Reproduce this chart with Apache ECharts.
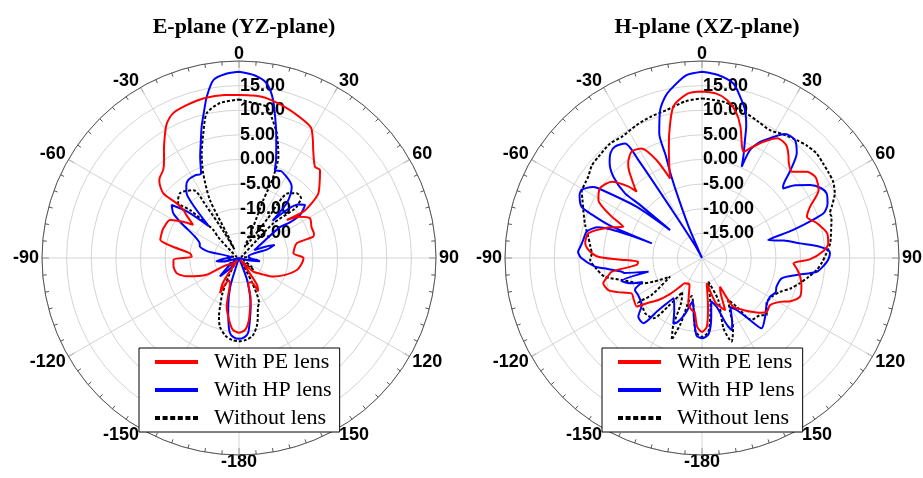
<!DOCTYPE html>
<html><head><meta charset="utf-8">
<script src="https://cdn.jsdelivr.net/npm/echarts@6/dist/echarts.min.js"></script>
<style>html,body{margin:0;padding:0;background:#fff}#c{width:923px;height:478px}</style>
</head><body><div id="c"></div><script>
// [angle (deg, clockwise from broadside), gain (dB)]
const ePE = [[0,13.1],[5,13.1],[10,12.9],[18,11.9],[25,10.9],[29,10.2],[32,8.3],[34.5,6.6],[39.8,4.1],[42.6,4.3],[46,2.8],[50.8,0.8],[53,-1.5],[54.2,-3.9],[51.5,-7.6],[56,-5],[60.8,-3.5],[67,-4.0],[72,-4.0],[74,-4.3],[75.7,-7.9],[85,-8.9],[90,-6.9],[95,-7.2],[101.7,-8],[110,-10],[118.6,-12.1],[126,-14.5],[133.8,-16],[140,-19.5],[146,-13.5],[150,-12.2],[154,-14.5],[160,-14.5],[164,-11.5],[167,-9.9],[171,-7.2],[175,-5.4],[180,-4.8],[-175,-5.4],[-171,-7.2],[-165.8,-9.8],[-160,-14.6],[-156,-15],[-151.7,-11.9],[-147,-14],[-140,-19.5],[-130,-18],[-125,-17.9],[-117.3,-12.6],[-109.4,-8.8],[-103.8,-7],[-97,-6.6],[-91.5,-6.7],[-88.4,-10.4],[-84.5,-10],[-80,-6],[-77,-3.6],[-72,-3.5],[-68.6,-3.5],[-61.2,-4],[-57,-6.5],[-54.2,-8.5],[-50.5,-6],[-49.2,-5.1],[-48.7,-3.2],[-49.5,0.2],[-46,2.5],[-44.2,3.0],[-40.7,3.6],[-37.5,5],[-34.8,6.7],[-30.7,9.4],[-28.2,11.0],[-24.4,12.3],[-18.9,12.8],[-12,13.2],[-5,13.2],[0,13.1]];
const eHP = [[0,17.8],[5,17.2],[9,15.9],[12.2,12.8],[15.7,7.7],[18,4.5],[20.7,1.3],[22.2,-0.7],[26,-0.4],[30.4,-0.9],[34,-1.4],[36.5,-2.0],[39,-3.4],[41.1,-5.3],[42,-9.8],[45,-6],[48,-3.8],[51.2,-2.8],[54.8,-4.8],[55,-7.5],[53,-9.5],[58,-15],[63,-16.5],[67,-14],[70,-12.3],[73,-14],[78,-18],[88,-18],[96,-16.5],[99,-15.7],[103,-18],[120,-20],[150,-20],[160,-15],[166.4,-9.9],[170,-7.3],[173,-4.7],[176,-3.9],[180,-3.6],[-176,-3.9],[-173,-4.7],[-170.2,-7.3],[-167.5,-9.9],[-163,-14],[-155,-20],[-140,-17.5],[-134,-14.6],[-128,-17.5],[-115,-20],[-102,-16.5],[-98,-15.4],[-93,-17],[-85,-18.5],[-78,-13.5],[-73.4,-11.7],[-69.7,-11.5],[-64,-10],[-59,-6.5],[-55.8,-3.9],[-51.8,-2.6],[-48,-6],[-43.5,-11],[-41,-6],[-39,-3.1],[-36,-1.8],[-33,-1.1],[-28,-1.0],[-24.2,-1.2],[-21,2],[-18.5,4.5],[-15.9,7.7],[-13.5,10.5],[-11.3,13.4],[-8.2,16.5],[-4,17.5],[0,17.8]];
const eNo = [[0,12.2],[5.3,11.6],[10.4,11.2],[13.5,9],[16.8,6.5],[19,4.3],[21.2,2.1],[22.9,-2.1],[23,-5],[22.7,-7.2],[24.5,-13],[27,-17.5],[33,-16],[36,-10],[37.3,-3.5],[41.7,-2.4],[46,-2.5],[48.5,-4.5],[48.5,-5.3],[44.7,-10.1],[45,-15],[55,-19],[70,-19.5],[85,-18],[100,-17.5],[115,-19],[125,-17],[129,-16.2],[133,-18],[145,-19],[152,-14.5],[156,-10],[159,-9.3],[163,-7],[165.6,-5.6],[170,-4],[175,-3.3],[180,-3.1],[-175,-3.3],[-170,-4],[-164.5,-5.5],[-161,-7.5],[-158.7,-9.4],[-155,-12],[-150,-16],[-140,-19],[-128,-17],[-124,-17.5],[-110,-19],[-95,-17.5],[-80,-18],[-65,-19.5],[-50,-18],[-45,-14],[-42.5,-12.3],[-45.6,-6.1],[-48,-3.4],[-46.3,-2.9],[-42.4,-2.2],[-40,-2.4],[-33.9,-3.4],[-32.2,-7.7],[-30,-14],[-28,-18],[-26.5,-14.4],[-26.6,-6.8],[-22.9,-1.3],[-19.6,2.6],[-16,6.3],[-12.6,10.1],[-7,11.7],[0,12.2]];
const hPE = [[0,13.8],[5,13.5],[9,12.5],[13,10.5],[16.3,7.8],[19.8,4.0],[21.4,3.2],[24,4.5],[27.9,6.7],[32.1,8.7],[35,8.8],[37.4,8.4],[40,7.3],[42.5,6.1],[46.2,5.3],[50.6,7.6],[54.3,8.3],[57,8.0],[59.8,7.4],[64.6,4.3],[68.5,2.9],[73.2,4.4],[78.8,5.9],[83.4,5.8],[87,4.5],[90.7,1.9],[93.3,-1.4],[97,-0.5],[100.8,0.3],[106,1.0],[111.5,1.4],[116,0],[119.3,-1.8],[124.7,-3.2],[129.7,-2.9],[134,-4],[138.2,-5.4],[143,-7],[147.3,-8.2],[148,-11],[147.9,-13.1],[152,-12],[156,-8.4],[160,-9.5],[163.4,-10.7],[169.5,-14.8],[173,-10],[176,-6],[180,-5.0],[-176,-6],[-172,-9],[-168.8,-9.2],[-163.2,-10.4],[-155,-14],[-146,-13.8],[-142.5,-12.6],[-138,-10],[-133.9,-7.7],[-129.3,-5.5],[-126.7,-3.5],[-121,-3.8],[-116.7,-4],[-112,-1.5],[-108.9,0.1],[-104.4,0.7],[-101,-0.5],[-98.6,-1.5],[-96,-6.7],[-93.3,-7],[-91,-3],[-89.3,1.1],[-86,3.1],[-82.8,3.9],[-77.7,3.6],[-72,0],[-68.3,-2.8],[-65,0.5],[-60.8,4.1],[-55.7,5.1],[-49.8,4.0],[-46,1],[-44.6,-1.1],[-43.9,-0.4],[-40,3],[-37.9,4.4],[-33.5,5.9],[-28.8,5.4],[-25,2],[-21.9,-2.6],[-19.7,-0.3],[-17,3],[-14.7,6.2],[-10.7,11.3],[-5,13.5],[0,13.8]];
const hHP = [[0,17.8],[5,17.3],[10.2,16],[13.5,13.5],[16.2,11.3],[18.5,8.3],[20,5.5],[22,2.5],[23.5,0.2],[24,4.0],[26.5,6.3],[29.6,8.0],[33.8,10.3],[38.2,10.5],[42.1,8.7],[45.5,5],[48.7,1.9],[49.4,1.7],[52,4],[56,6.5],[59.5,8.0],[62.6,8.5],[66.5,7.8],[69.8,6.3],[72.9,-0.6],[74.8,-6.1],[78,-3],[81.5,0.1],[84,3.5],[86.4,5.7],[87.9,6.0],[90.9,5.6],[93.5,4.8],[96.8,3.5],[100.2,-0.5],[104.3,-3.3],[111,-3.8],[115,-3.5],[119.6,-4.1],[126,-3.8],[132.9,-2.5],[139.7,-1.3],[142.3,-4.1],[146.3,-7.3],[150,-8.5],[155,-5.5],[157.6,-4.2],[160,-6],[163,-9.5],[168,-11],[171,-8],[175,-4.5],[180,-3.7],[-176,-4.2],[-172,-8],[-168,-11],[-163,-8],[-159,-6],[-156.3,-5.5],[-152,-8],[-145,-10],[-140,-6],[-138,-2.2],[-132.7,-2.4],[-127.9,-4.5],[-120,-5],[-115.5,-4.9],[-112,-7],[-109.8,-4.8],[-106,-3],[-104.3,-8.8],[-101,-4],[-99.7,-3.5],[-96,0],[-94.6,1.8],[-90,4.5],[-87.1,5.2],[-84.7,4.8],[-81.4,4.4],[-77,4.0],[-73.5,2],[-73.7,-9.4],[-70.5,0],[-68.5,4],[-66.9,6.6],[-63,7.9],[-60.5,8.1],[-57,6.5],[-56.1,5.4],[-52,-3],[-48.8,-11.4],[-49.5,-3],[-50,0.4],[-47.5,4.4],[-44,7],[-41,8.3],[-38,8.7],[-33.9,8.0],[-33,3.7],[-32,-8.5],[-29,-17],[-26,-20],[-23,-13],[-21.5,-7],[-20.5,-2],[-19.5,2],[-18.9,6.8],[-15.8,11.2],[-13,13.5],[-10.8,14.7],[-5,17.2],[0,17.8]];
const hNo = [[0,12.4],[8,12],[17.2,10.7],[22,10],[28,9.4],[33,10],[38.7,10.7],[43,11.2],[47.6,11.5],[52,11.2],[56,11],[59.8,10.8],[64,10.0],[68,8.5],[70.8,7.5],[72.3,7.6],[78,6.8],[83.4,6.2],[87.8,5.3],[92,4.4],[96,3.4],[100,2],[104.5,0.5],[109,-1],[113.4,-2.7],[119,-3.8],[125,-4.0],[128,-3.3],[131.4,-2.5],[135,-3.5],[141.3,-3.9],[144.6,-7.9],[148,-10],[152,-8],[156,-4.5],[160.5,-2],[163,-5],[158.8,-10.9],[165,-15],[170,-10],[175,-5],[180,-4],[-175,-5],[-170,-10],[-165,-12],[-162,-6],[-159.7,-2.3],[-157,-5],[-155,-10],[-150,-12],[-145,-8],[-141.1,-4.3],[-134.1,-3.9],[-128,-4.5],[-125.4,-4.1],[-126.3,-7.3],[-120.3,-12.5],[-116,-9],[-112.8,-6.7],[-105.3,-3.1],[-100.9,0.1],[-96,1.5],[-91,2.7],[-87.6,2.4],[-84,2.8],[-79.4,3.5],[-74,4.7],[-68,6.0],[-64,7.0],[-61.1,7.9],[-57,8.2],[-54.4,8.4],[-50,9.2],[-45.7,9.4],[-38.7,9.8],[-33.5,9.5],[-26.1,10.1],[-20,10.5],[-13.4,10.9],[-6,12],[0,12.4]];
const seriesNames = ['With PE lens','With HP lens','Without lens'];
const titles = ['E-plane (YZ-plane)','H-plane (XZ-plane)'];

const sans = '"Liberation Sans", Arial, sans-serif';
const serif = '"Liberation Serif", "Times New Roman", serif';
const centers = [[239,258],[702,258]];
const R = 197;
const toData = arr => arr.map(p => [Math.max(p[1], -20), p[0] < 0 ? p[0] + 360 : p[0]]);

function angleAxis(i){ return {polarIndex:i, type:'value', min:0, max:360, interval:30, startAngle:90, clockwise:true,
  axisLine:{lineStyle:{color:'#555', width:1}},
  axisTick:{inside:true, length:7, lineStyle:{color:'#555'}},
  minorTick:{show:true, splitNumber:6, length:4, lineStyle:{color:'#555'}},
  splitLine:{show:true, lineStyle:{color:'#d4d4d4', width:1}},
  axisLabel:{margin:3, fontFamily:sans, fontWeight:'bold', fontSize:18, lineHeight:8, color:'#000',
    formatter: v => { v = Math.round(v); if (v === 360) return ''; return String(v >= 180 ? v - 360 : v); }}
};}
function radiusAxis(i){ return {polarIndex:i, type:'value', min:-20, max:20, interval:5,
  axisLine:{show:false}, axisTick:{show:false},
  splitLine:{show:true, lineStyle:{color:'#d4d4d4', width:1}},
  axisLabel:{showMinLabel:false, showMaxLabel:false, fontFamily:sans, fontWeight:'bold', fontSize:18, color:'#000',
    formatter: v => v.toFixed(2), margin:-1, align:'left', padding:[0,0,10,0]}
};}
const colors = ['#ff0000','#0000ff','#000000'];
function mk(i, k, arr){
  const dashed = k === 2;
  return {type:'line', coordinateSystem:'polar', polarIndex:i, name:seriesNames[k], data:toData(arr),
    symbol:'none', smooth:0.25, z: 3 + (2-k),
    lineStyle:{color:colors[k], width:2, type: dashed ? [3,2] : 'solid'},
    itemStyle:{color:colors[k]}};
}
const solidIcon = 'path://M0,0H43V4H0Z';
const dashIcon = 'path://M0,0h5v4h-5z M7.6,0h5v4h-5z M15.2,0h5v4h-5z M22.8,0h5v4h-5z M30.4,0h5v4h-5z M38,0h5v4h-5z';
function legend(x){ return {orient:'vertical', left:x, top:348, backgroundColor:'#fff', borderColor:'#000', borderWidth:1,
  padding:[3,8,3,16], itemGap:6, itemWidth:43, itemHeight:4,
  textStyle:{fontFamily:serif, fontSize:22, color:'#000', padding:[0,0,0,11]},
  data:[{name:seriesNames[0], icon:solidIcon},{name:seriesNames[1], icon:solidIcon},{name:seriesNames[2], icon:dashIcon}],
  selectedMode:false};
}
const chart = echarts.init(document.getElementById('c'), null, {renderer:'canvas'});
chart.setOption({
  backgroundColor:'#fff',
  animation:false,
  title: titles.map((t,i) => ({text:t, left:centers[i][0], top:11, textAlign:'center',
    textStyle:{fontFamily:serif, fontWeight:'bold', fontSize:22, color:'#000'}})),
  polar: centers.map(c => ({center:c, radius:R})),
  angleAxis:[angleAxis(0), angleAxis(1)],
  radiusAxis:[radiusAxis(0), radiusAxis(1)],
  legend:[legend(139), legend(602)],
  series:[mk(0,0,ePE), mk(0,1,eHP), mk(0,2,eNo), mk(1,0,hPE), mk(1,1,hHP), mk(1,2,hNo)]
});
</script></body></html>
